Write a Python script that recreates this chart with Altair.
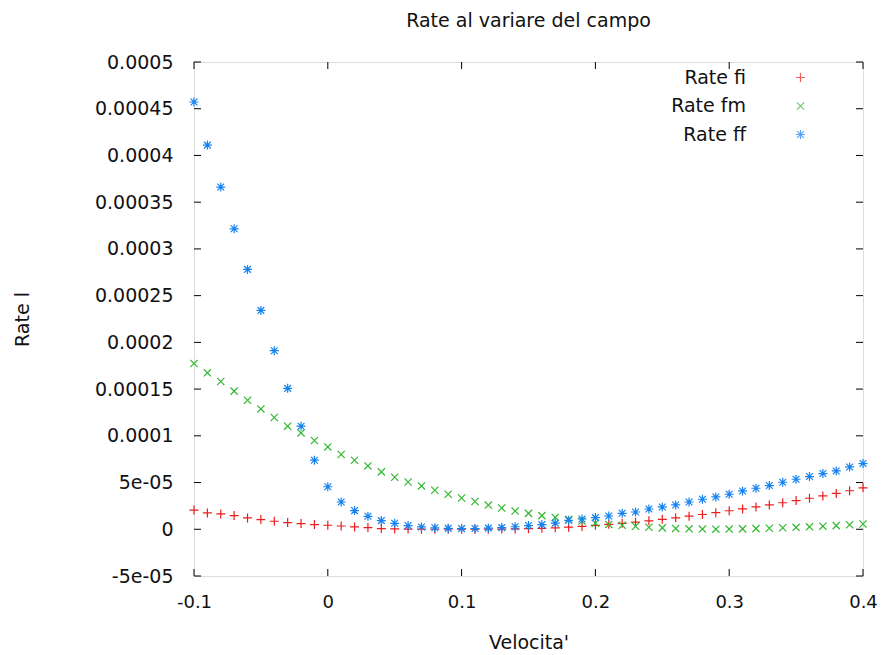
import altair as alt
import pandas as pd

# ---- data ----
velocita = [-0.10, -0.09, -0.08, -0.07, -0.06, -0.05, -0.04, -0.03, -0.02, -0.01,
            0.00, 0.01, 0.02, 0.03, 0.04, 0.05, 0.06, 0.07, 0.08, 0.09,
            0.10, 0.11, 0.12, 0.13, 0.14, 0.15, 0.16, 0.17, 0.18, 0.19,
            0.20, 0.21, 0.22, 0.23, 0.24, 0.25, 0.26, 0.27, 0.28, 0.29,
            0.30, 0.31, 0.32, 0.33, 0.34, 0.35, 0.36, 0.37, 0.38, 0.39, 0.40]

rate_fi = [20.5e-6, 17.5e-6, 16.4e-6, 14.7e-6, 12.1e-6, 10.4e-6, 8.6e-6, 7.2e-6, 6.1e-6, 5.0e-6,
           4.3e-6, 3.5e-6, 2.5e-6, 1.8e-6, 0.8e-6, 0.4e-6, 0.2e-6, 0.1e-6, 0.0, 0.0,
           0.0, 0.0, 0.1e-6, 0.2e-6, 0.4e-6, 0.6e-6, 1.0e-6, 1.5e-6, 2.2e-6, 3.1e-6,
           4.2e-6, 5.3e-6, 6.4e-6, 7.6e-6, 9.0e-6, 10.6e-6, 12.3e-6, 14.0e-6, 15.8e-6, 17.8e-6,
           19.8e-6, 21.8e-6, 23.9e-6, 26.1e-6, 28.4e-6, 30.7e-6, 33.2e-6, 35.7e-6, 38.4e-6, 41.2e-6, 44.3e-6]

rate_fm = [177.4e-6, 167.4e-6, 158.1e-6, 147.8e-6, 138.1e-6, 128.8e-6, 119.6e-6, 110.3e-6, 103.1e-6, 95.0e-6,
           88.1e-6, 80.0e-6, 73.9e-6, 67.8e-6, 61.4e-6, 55.7e-6, 50.6e-6, 46.4e-6, 41.8e-6, 37.5e-6,
           33.5e-6, 29.7e-6, 25.9e-6, 22.8e-6, 19.6e-6, 17.0e-6, 14.6e-6, 12.7e-6, 10.6e-6, 8.9e-6,
           6.5e-6, 5.2e-6, 4.2e-6, 3.2e-6, 2.2e-6, 1.5e-6, 0.9e-6, 0.5e-6, 0.2e-6, 0.1e-6,
           0.2e-6, 0.4e-6, 0.7e-6, 1.1e-6, 1.6e-6, 2.1e-6, 2.6e-6, 3.3e-6, 3.9e-6, 4.8e-6, 5.6e-6]

rate_ff = [457.2e-6, 411.1e-6, 366.2e-6, 321.5e-6, 278.1e-6, 234.2e-6, 191.1e-6, 150.8e-6, 110.3e-6, 73.9e-6,
           45.5e-6, 29.2e-6, 20.0e-6, 13.9e-6, 9.3e-6, 6.4e-6, 4.0e-6, 2.5e-6, 1.6e-6, 1.0e-6,
           0.7e-6, 0.8e-6, 1.2e-6, 1.8e-6, 2.7e-6, 4.0e-6, 5.0e-6, 6.6e-6, 9.6e-6, 11.0e-6,
           12.5e-6, 14.2e-6, 17.1e-6, 18.5e-6, 21.7e-6, 23.9e-6, 26.0e-6, 29.2e-6, 32.1e-6, 34.6e-6,
           37.5e-6, 41.0e-6, 43.9e-6, 46.8e-6, 50.3e-6, 53.5e-6, 56.4e-6, 59.6e-6, 62.4e-6, 66.7e-6, 70.3e-6]

series_names = ["Rate fi", "Rate fm", "Rate ff"]
series_colors = ["#ec1c1c", "#30b830", "#1482f0"]
series_shapes = [
    "M-1,0H1M0,-1V1",                                              # +
    "M-0.8,-0.8L0.8,0.8M-0.8,0.8L0.8,-0.8",                        # x
    "M-1,0H1M0,-1V1M-0.75,-0.75L0.75,0.75M-0.75,0.75L0.75,-0.75",  # *
]

x_ticks = [-0.1, 0.0, 0.1, 0.2, 0.3, 0.4]
x_tick_labels = ["-0.1", "0", "0.1", "0.2", "0.3", "0.4"]
y_ticks = [-0.00005, 0.0, 0.00005, 0.0001, 0.00015, 0.0002, 0.00025,
           0.0003, 0.00035, 0.0004, 0.00045, 0.0005]
y_tick_labels = ["-5e-05", "0", "5e-05", "0.0001", "0.00015", "0.0002", "0.00025",
                 "0.0003", "0.00035", "0.0004", "0.00045", "0.0005"]

# ---- tables ----
rows = []
for name, vals in zip(series_names, [rate_fi, rate_fm, rate_ff]):
    for xv, yv in zip(velocita, vals):
        rows.append({"x": xv, "y": yv, "serie": name, "etichetta": name})
df = pd.DataFrame(rows)
df_xt = pd.DataFrame({"x": x_ticks})
df_yt = pd.DataFrame({"y": y_ticks})


def label_expr(vals, labels):
    parts = [f"abs(datum.value - ({v})) < 1e-9 ? '{l}'" for v, l in zip(vals, labels)]
    return " : ".join(parts) + " : ''"


W, H = 669, 514
FONT = "DejaVu Sans"
TXT = "#111111"
TL = 7  # inward tick length
MS = 81  # marker size

x_scale = alt.Scale(domain=[-0.1, 0.4], nice=False, zero=False)
y_scale = alt.Scale(domain=[-0.00005, 0.0005], nice=False, zero=False)

x_axis = alt.Axis(values=x_ticks, labelExpr=label_expr(x_ticks, x_tick_labels),
                  title="Velocita'", grid=False, domain=False, ticks=False, tickSize=0,
                  labelFlush=False, labelOverlap=False,
                  labelPadding=17, labelFontSize=18, labelFont=FONT, labelColor=TXT,
                  titleFontSize=19, titleFont=FONT, titleColor=TXT, titleFontWeight="normal",
                  titleBaseline="alphabetic", titleY=72, titleX=W / 2)
y_axis = alt.Axis(values=y_ticks, labelExpr=label_expr(y_ticks, y_tick_labels),
                  title="Rate l", grid=False, domain=False, ticks=False, tickSize=0,
                  labelFlush=False, labelOverlap=False,
                  labelPadding=21, labelFontSize=19, labelFont=FONT, labelColor=TXT,
                  titleFontSize=19, titleFont=FONT, titleColor=TXT, titleFontWeight="normal",
                  titleBaseline="middle", titleX=-172, titleY=H / 2, titleAngle=270)

X = alt.X("x:Q", scale=x_scale, axis=x_axis)
Y = alt.Y("y:Q", scale=y_scale, axis=y_axis)

# legend with the symbols only (labels hidden)
symbol_legend = alt.Legend(title=None, orient="none", legendX=597, legendY=6,
                           labelOpacity=0, labelExpr="''", symbolOffset=0, padding=0,
                           rowPadding=8.5, labelFontSize=19, labelFont=FONT,
                           symbolSize=MS, symbolStrokeWidth=1.2)
# legend with the labels only (symbols hidden), right aligned like gnuplot
label_legend = alt.Legend(title=None, orient="none", legendX=533, legendY=6,
                          labelAlign="right", labelOffset=0, symbolOffset=0,
                          padding=0, rowPadding=8.5, labelFontSize=19,
                          labelFont=FONT, labelColor=TXT, symbolSize=MS,
                          symbolOpacity=0, symbolStrokeWidth=0,
                          symbolStrokeColor="transparent", symbolFillColor="transparent",
                          labelLimit=300)

points = alt.Chart(df).mark_point(filled=False, strokeWidth=1.2, size=MS).encode(
    x=X,
    y=Y,
    color=alt.Color("serie:N", scale=alt.Scale(domain=series_names, range=series_colors),
                    legend=symbol_legend),
    shape=alt.Shape("serie:N", scale=alt.Scale(domain=series_names, range=series_shapes),
                    legend=symbol_legend),
    opacity=alt.Opacity("etichetta:N", sort=series_names,
                        scale=alt.Scale(range=[1, 1, 1]), legend=label_legend),
)

tick_style = dict(color="black", strokeWidth=1)
left_ticks = alt.Chart(df_yt).mark_rule(**tick_style).encode(
    y=Y, x=alt.value(0), x2=alt.value(TL))
right_ticks = alt.Chart(df_yt).mark_rule(**tick_style).encode(
    y=Y, x=alt.value(W - TL), x2=alt.value(W))
bottom_ticks = alt.Chart(df_xt).mark_rule(**tick_style).encode(
    x=X, y=alt.value(H - TL), y2=alt.value(H))
top_ticks = alt.Chart(df_xt).mark_rule(**tick_style).encode(
    x=X, y=alt.value(0), y2=alt.value(TL))

chart = alt.layer(left_ticks, right_ticks, bottom_ticks, top_ticks, points).properties(
    width=W, height=H,
    title=alt.Title("Rate al variare del campo", fontSize=19, font=FONT, color=TXT,
                    fontWeight="normal", anchor="middle", offset=22, frame="group"),
    autosize=alt.AutoSizeParams(type="none"),
    padding={"left": 186, "top": 54, "right": 14, "bottom": 79},
).configure_view(stroke="black", strokeWidth=1).configure(background="white")

chart.save("out.html", embed_options={"renderer": "svg", "actions": False})
